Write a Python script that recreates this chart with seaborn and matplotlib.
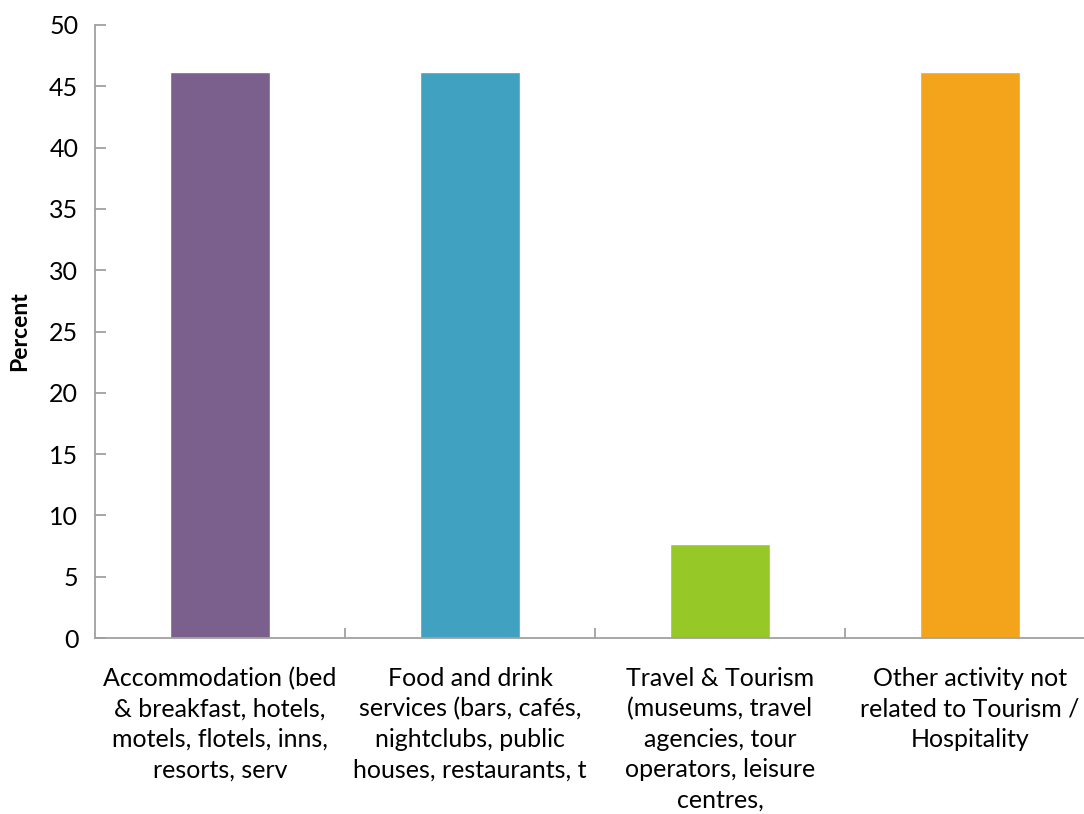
import matplotlib
matplotlib.use("Agg")
import matplotlib.pyplot as plt
import seaborn as sns
import pandas as pd
from matplotlib.ticker import FixedLocator, NullFormatter

categories = [
    "Accommodation (bed\n& breakfast, hotels,\nmotels, flotels, inns,\nresorts, serv",
    "Food and drink\nservices (bars, cafés,\nnightclubs, public\nhouses, restaurants, t",
    "Travel & Tourism\n(museums, travel\nagencies, tour\noperators, leisure\ncentres,",
    "Other activity not\nrelated to Tourism /\nHospitality",
]
percent = [46.2, 46.2, 7.7, 46.2]
colors = ["#7B5F8C", "#41A1C1", "#96C927", "#F4A41A"]
y_ticks = [0, 5, 10, 15, 20, 25, 30, 35, 40, 45, 50]

sns.set_theme(style="white")
plt.rcParams["font.family"] = ["Lato", "DejaVu Sans"]
plt.rcParams["text.color"] = "black"
plt.rcParams["xtick.labelcolor"] = "black"
plt.rcParams["ytick.labelcolor"] = "black"

df = pd.DataFrame({"category": categories, "percent": percent})

fig = plt.figure(figsize=(10.84, 8.14), dpi=100)
ax = fig.add_axes([95 / 1084, 176 / 814, 1000 / 1084, 613 / 814])

sns.barplot(data=df, x="category", y="percent", hue="category",
            palette=colors, width=0.4, legend=False, ax=ax, saturation=1)

ax.set_xlim(-0.5, 3.5)
ax.set_ylim(0, 50)
ax.set_yticks(y_ticks)
ax.set_yticklabels([str(t) for t in y_ticks], fontsize=18)
ax.set_ylabel("Percent", fontsize=16.5, fontweight="bold", labelpad=14,
              color="black")
ax.set_xlabel("")

ax.tick_params(axis="x", which="major", length=0, pad=21, labelsize=18)
ax.xaxis.set_minor_locator(FixedLocator([0.5, 1.5, 2.5, 3.5]))
ax.xaxis.set_minor_formatter(NullFormatter())
ax.tick_params(axis="x", which="minor", direction="in", length=7,
               width=1.3, color="#A0A0A0", bottom=True)
ax.tick_params(axis="y", direction="in", length=8, width=1.3,
               color="#A0A0A0", left=True, pad=12)

for lbl in ax.get_xticklabels():
    lbl.set_linespacing(1.38)

for side in ["top", "right"]:
    ax.spines[side].set_visible(False)
for side in ["left", "bottom"]:
    ax.spines[side].set_color("#A0A0A0")
    ax.spines[side].set_linewidth(1.3)

fig.savefig("out.png", dpi=100)
